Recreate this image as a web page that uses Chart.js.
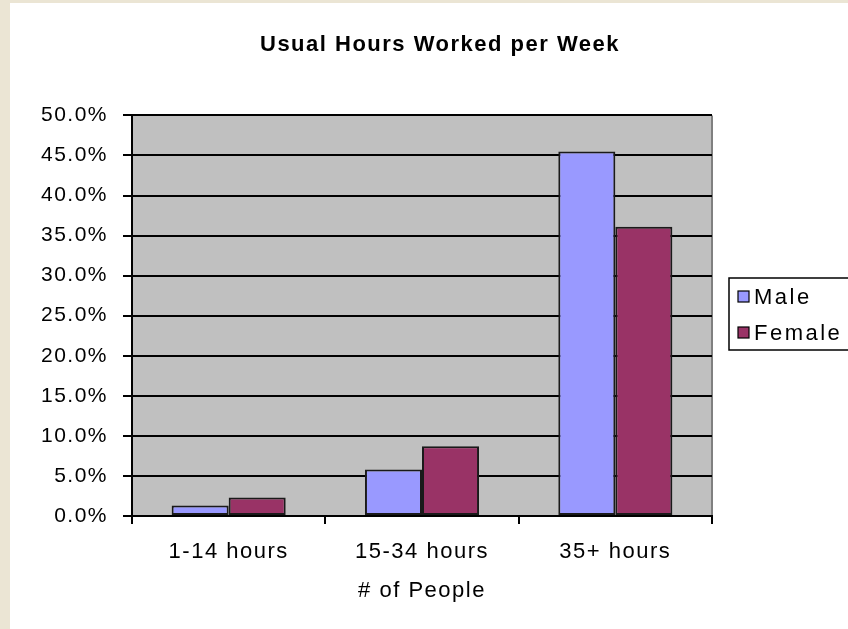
<!DOCTYPE html>
<html>
<head>
<meta charset="utf-8">
<script src="https://cdn.jsdelivr.net/npm/chart.js@4.4.1/dist/chart.umd.min.js"></script>
<style>
html,body{margin:0;padding:0;}
body{width:848px;height:629px;overflow:hidden;background:#ebe5d4;position:relative;}
#wrap{position:absolute;left:10px;top:3px;width:860px;height:626px;background:#fff;}
</style>
</head>
<body>
<div id="wrap"><canvas id="chart" width="860" height="626"></canvas></div>
<script>
// ================== DATA ==================
const categories = ["1-14 hours", "15-34 hours", "35+ hours"];
const seriesNames = ["Male", "Female"];
const maleValues = [1.3, 5.8, 45.5];
const femaleValues = [2.3, 8.7, 36.1];
const yMin = 0, yMax = 50, yStep = 5;

const FONT = "'Liberation Sans', Arial, sans-serif";

// ================== PLUGINS ==================
// letter spacing for the old-Excel look
const spacing = {
  id: "spacing",
  beforeUpdate(chart){ chart.ctx.letterSpacing = "1.5px"; },
  beforeDraw(chart){ chart.ctx.letterSpacing = "1.5px"; }
};

// grey plot area
const plotBg = {
  id: "plotBg",
  beforeDraw(chart){
    const {ctx, chartArea:a} = chart;
    ctx.save();
    ctx.fillStyle = "#c0c0c0";
    ctx.fillRect(a.left, a.top, a.right - a.left, a.bottom - a.top);
    ctx.strokeStyle = "#808080";
    ctx.lineWidth = 2;
    ctx.beginPath();
    ctx.moveTo(a.right, a.top);
    ctx.lineTo(a.right, a.bottom);
    ctx.stroke();
    ctx.restore();
  }
};

// boxed legend on the right
const boxLegend = {
  id: "boxLegend",
  afterDraw(chart){
    const ctx = chart.ctx;
    const a = chart.chartArea;
    const x = a.right + 17, y = 275;
    ctx.save();
    ctx.fillStyle = "#fff";
    ctx.fillRect(x, y, 170, 72);
    ctx.strokeStyle = "#000";
    ctx.lineWidth = 1.5;
    ctx.strokeRect(x, y, 170, 72);
    ctx.font = "22px " + FONT;
    ctx.letterSpacing = "2.5px";
    ctx.textBaseline = "middle";
    chart.data.datasets.forEach((ds, i)=>{
      const cy = y + 19 + i * 36;
      ctx.fillStyle = ds.backgroundColor;
      ctx.fillRect(x + 9, cy - 6, 11, 11);
      ctx.strokeStyle = "#000";
      ctx.lineWidth = 1.2;
      ctx.strokeRect(x + 9, cy - 6, 11, 11);
      ctx.fillStyle = "#000";
      ctx.fillText(ds.label, x + 25, cy + 1);
    });
    ctx.restore();
  }
};

// ================== CHART ==================
const ctx = document.getElementById("chart").getContext("2d");
new Chart(ctx, {
  type: "bar",
  data: {
    labels: categories,
    datasets: [
      {label: seriesNames[0], data: maleValues, backgroundColor: "#9999ff",
       borderColor: "#1a1a1a", borderWidth: 2, borderSkipped: false},
      {label: seriesNames[1], data: femaleValues, backgroundColor: "#993366",
       borderColor: "#1a1a1a", borderWidth: 2, borderSkipped: false}
    ]
  },
  options: {
    responsive: false,
    animation: false,
    layout: {padding: 0},
    datasets: {bar: {categoryPercentage: 0.59, barPercentage: 1}},
    plugins: {
      legend: {display: false},
      tooltip: {enabled: false},
      title: {
        display: true,
        text: "Usual Hours Worked per Week",
        color: "#000",
        font: {family: FONT, size: 22, weight: "bold"},
        padding: {top: 29, bottom: 57}
      }
    },
    scales: {
      x: {
        grid: {offset: true, drawOnChartArea: false, drawTicks: true, tickLength: 8, color: "#000", lineWidth: 2},
        border: {color: "#000", width: 2},
        ticks: {color: "#000", font: {family: FONT, size: 22}, padding: 15, maxRotation: 0},
        title: {display: true, text: "# of People", color: "#000",
                font: {family: FONT, size: 22}, padding: {top: 0, bottom: 25}},
        afterFit(s){ s.height = 113; }
      },
      y: {
        min: yMin, max: yMax,
        ticks: {stepSize: yStep, color: "#000", font: {family: FONT, size: 21}, padding: 15,
                callback: v => v.toFixed(1) + "%"},
        grid: {color: "#000", lineWidth: 2, tickLength: 9},
        border: {color: "#000", width: 2},
        afterFit(s){ s.width = 122; }
      },
      // empty right-hand axis that only reserves room for the legend
      spacer: {
        position: "right",
        grid: {display: false},
        ticks: {display: false},
        border: {display: false},
        afterFit(s){ s.width = 158; }
      }
    }
  },
  plugins: [spacing, plotBg, boxLegend]
});
</script>
</body>
</html>
